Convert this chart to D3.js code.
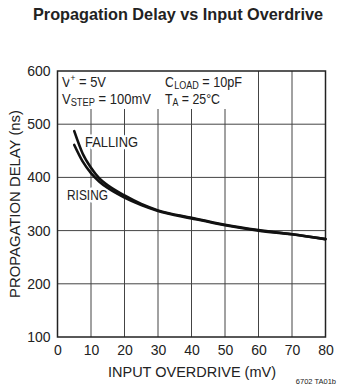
<!DOCTYPE html>
<html><head><meta charset="utf-8">
<script src="https://cdn.jsdelivr.net/npm/d3@7"></script>
<style>body{margin:0;background:#fff}svg{display:block}text{font-family:"Liberation Sans Narrow","Arial Narrow","Liberation Sans",Arial,sans-serif;fill:#222}</style>
</head><body><svg id="c" width="341" height="388"></svg>
<script>
const overdrive = [5, 7.5, 10, 12.5, 15, 20, 25, 30, 40, 50, 60, 70, 80];
const falling = [487, 445, 418, 398, 385, 366, 350, 338, 324, 311, 301, 293, 284];
const rising  = [461, 430, 408, 392, 380, 362, 348, 337, 323, 310, 300, 293, 284];
const xTicks = [0, 10, 20, 30, 40, 50, 60, 70, 80];
const yTicks = [100, 200, 300, 400, 500, 600];

const svg = d3.select("#c");
const x = d3.scaleLinear().domain([0, 80]).range([57.5, 325.5]);
const y = d3.scaleLinear().domain([100, 600]).range([337, 71]);

// grid
const g = svg.append("g");
g.selectAll(".vx").data(xTicks.slice(1, -1)).join("line")
  .attr("x1", d => x(d)).attr("x2", d => x(d)).attr("y1", y(600)).attr("y2", y(100))
  .attr("stroke", "#444").attr("stroke-width", 1);
g.selectAll(".hy").data(yTicks.slice(1, -1)).join("line")
  .attr("y1", d => y(d)).attr("y2", d => y(d)).attr("x1", x(0)).attr("x2", x(80))
  .attr("stroke", "#444").attr("stroke-width", 1);
// white box behind the conditions text
svg.append("rect").attr("x", x(0)).attr("y", y(600)).attr("width", 182).attr("height", 38).attr("fill", "#fff");
svg.append("rect").attr("x", x(0)).attr("y", y(600)).attr("width", x(80) - x(0)).attr("height", y(100) - y(600))
  .attr("fill", "none").attr("stroke", "#222").attr("stroke-width", 1.5);

// axes labels
const xAxis = d3.axisBottom(x).tickValues(xTicks).tickSize(0).tickPadding(8);
const xa = svg.append("g").attr("transform", `translate(0,${y(100)})`).call(xAxis);
xa.select(".domain").remove();
xa.selectAll("text").attr("font-size", 14).attr("fill", "#333");
const yAxis = d3.axisLeft(y).tickValues(yTicks).tickSize(0).tickPadding(7);
const ya = svg.append("g").attr("transform", `translate(${x(0)},0)`).call(yAxis);
ya.select(".domain").remove();
ya.selectAll("text").attr("font-size", 14).attr("fill", "#333");
svg.selectAll(".tick text").attr("font-family", null);

// title
svg.append("text").attr("x", 178).attr("y", 20).attr("text-anchor", "middle")
  .attr("font-size", 17).attr("font-weight", "bold").attr("textLength", 290).attr("lengthAdjust", "spacingAndGlyphs")
  .text("Propagation Delay vs Input Overdrive");
svg.append("text").attr("x", 192).attr("y", 377).attr("text-anchor", "middle").attr("font-size", 14)
  .attr("textLength", 168).attr("lengthAdjust", "spacingAndGlyphs").text("INPUT OVERDRIVE (mV)");
svg.append("text").attr("transform", `translate(20,${(y(100) + y(600)) / 2}) rotate(-90)`).attr("text-anchor", "middle")
  .attr("font-size", 14).attr("textLength", 188).attr("lengthAdjust", "spacingAndGlyphs").text("PROPAGATION DELAY (ns)");
svg.append("text").attr("x", 336).attr("y", 384).attr("text-anchor", "end").attr("font-size", 7.5).attr("fill", "#444").text("6702 TA01b");

// annotations with white halo hiding grid
function halo(sel, len) {
  return sel.attr("stroke", "#fff").attr("stroke-width", 5).attr("paint-order", "stroke").attr("stroke-linejoin", "round")
    .attr("textLength", len).attr("lengthAdjust", "spacingAndGlyphs");
}
const ann = svg.append("g").attr("font-size", 14);
let t = halo(ann.append("text").attr("x", 62).attr("y", 87), 44);
t.append("tspan").text("V"); t.append("tspan").attr("font-size", 9).attr("dy", -6).text("+");
t.append("tspan").attr("dy", 6).text(" = 5V");
t = halo(ann.append("text").attr("x", 62).attr("y", 104), 89);
t.append("tspan").text("V"); t.append("tspan").attr("font-size", 10).attr("dy", 2).text("STEP");
t.append("tspan").attr("dy", -2).text(" = 100mV");
t = halo(ann.append("text").attr("x", 165).attr("y", 87), 77);
t.append("tspan").text("C"); t.append("tspan").attr("font-size", 10).attr("dy", 2).text("LOAD");
t.append("tspan").attr("dy", -2).text(" = 10pF");
t = halo(ann.append("text").attr("x", 165).attr("y", 104), 55);
t.append("tspan").text("T"); t.append("tspan").attr("font-size", 10).attr("dy", 2).text("A");
t.append("tspan").attr("dy", -2).text(" = 25°C");
halo(ann.append("text").attr("x", 85).attr("y", 147).text("FALLING"), 53);
halo(ann.append("text").attr("x", 67).attr("y", 200).text("RISING"), 41);

// curves
const line = d3.line().x(d => x(d[0])).y(d => y(d[1])).curve(d3.curveMonotoneX);
[falling, rising].forEach(s => {
  svg.append("path").datum(overdrive.map((v, i) => [v, s[i]])).attr("d", line)
    .attr("fill", "none").attr("stroke", "#111").attr("stroke-width", 2.6).attr("stroke-linecap", "round");
});
</script></body></html>
